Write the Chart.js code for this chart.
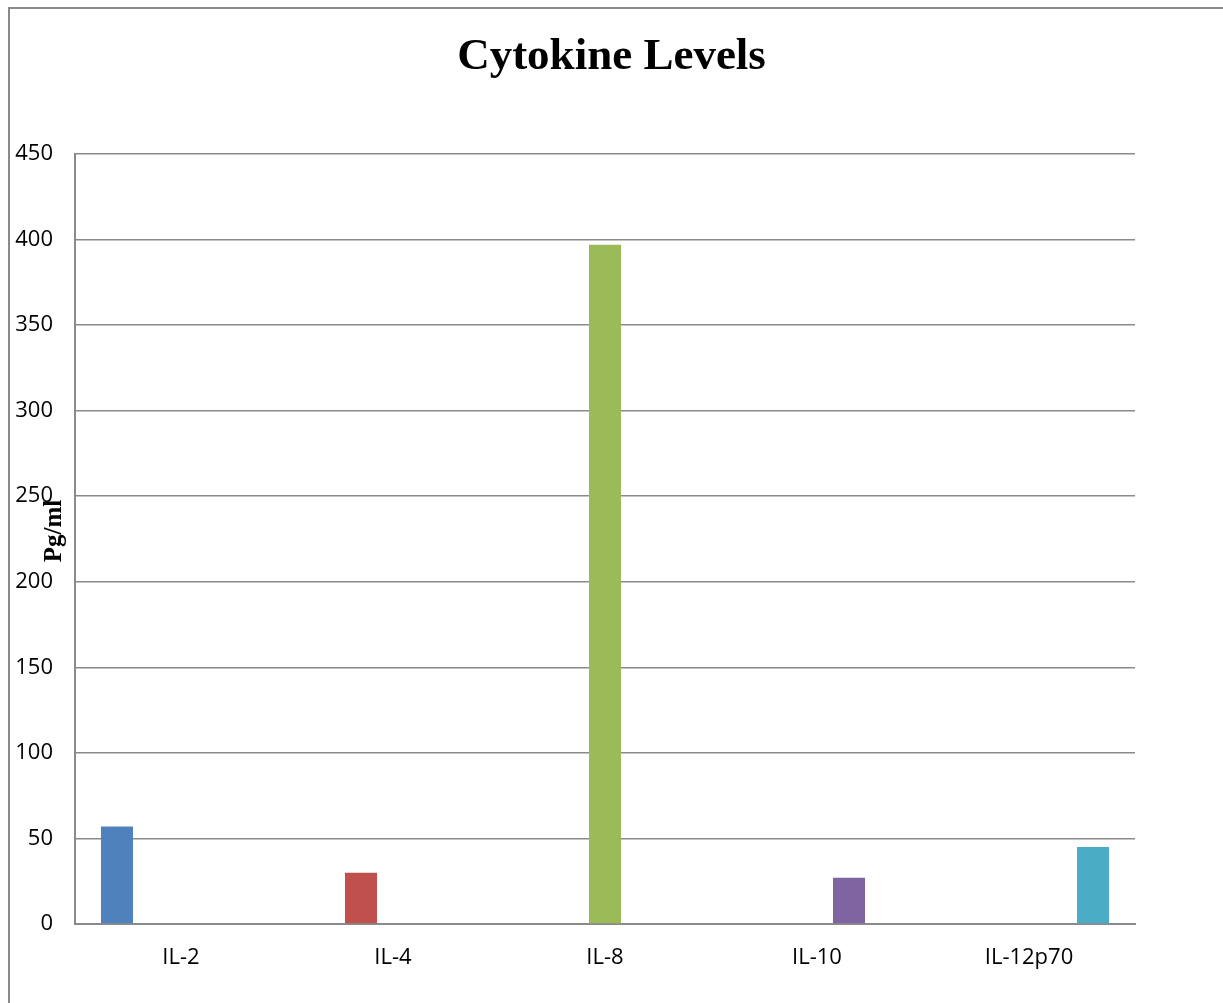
<!DOCTYPE html>
<html>
<head>
<meta charset="utf-8">
<script src="https://cdn.jsdelivr.net/npm/chart.js@4"></script>
<style>
  html, body { margin: 0; padding: 0; background: #fff; }
  #wrap { position: relative; width: 1223px; height: 1003px; }
</style>
</head>
<body>
<div id="wrap"><canvas id="cytokineChart"></canvas></div>
<script>
// chart data
const categories = ['IL-2', 'IL-4', 'IL-8', 'IL-10', 'IL-12p70'];
const levels = [57, 30, 397, 27, 45];
const barColors = ['#4F81BD', '#C0504D', '#9BBB59', '#8064A2', '#4BACC6'];
const yTicks = [0, 50, 100, 150, 200, 250, 300, 350, 400, 450];

// one dataset per cytokine, value only in its own category (like the original Excel chart)
const datasets = categories.map((name, i) => ({
    label: name,
    data: categories.map((_, j) => (j === i ? levels[i] : null)),
    backgroundColor: barColors[i],
    borderWidth: 0
}));

const tickFont = { family: '"Open Sans", Lato, sans-serif', size: 22 };

// outer frame line (top + left) and the rotated axis label
const framePlugin = {
    id: 'frame',
    beforeDraw(chart) {
        const ctx = chart.ctx;
        ctx.save();
        ctx.strokeStyle = '#8a8a8a';
        ctx.lineWidth = 2;
        ctx.beginPath();
        ctx.moveTo(9, chart.height);
        ctx.lineTo(9, 8);
        ctx.lineTo(chart.width, 8);
        ctx.stroke();
        ctx.restore();
    },
    afterDraw(chart) {
        const ctx = chart.ctx;
        const area = chart.chartArea;
        ctx.save();
        ctx.translate(area.left - 20, (area.top + area.bottom) / 2 - 8);
        ctx.rotate(-Math.PI / 2);
        ctx.font = 'bold 25px "Liberation Serif", "Times New Roman", serif';
        ctx.fillStyle = '#000';
        ctx.textAlign = 'center';
        ctx.textBaseline = 'middle';
        ctx.fillText('Pg/ml', 0, 0);
        ctx.restore();
    }
};

const ctx = document.getElementById('cytokineChart').getContext('2d');
new Chart(ctx, {
    type: 'bar',
    data: { labels: categories, datasets: datasets },
    options: {
        responsive: true,
        maintainAspectRatio: false,
        animation: false,
        layout: { padding: 0 },
        datasets: {
            bar: { categoryPercentage: 0.755, barPercentage: 1.0 }
        },
        scales: {
            x: {
                grid: { display: false, drawTicks: false },
                border: { display: true, color: '#8a8a8a', width: 2 },
                ticks: { color: '#000', padding: 21, font: tickFont },
                afterFit: (scale) => { scale.height = 79; }
            },
            y: {
                min: 0,
                max: 450,
                afterBuildTicks: (scale) => { scale.ticks = yTicks.map(v => ({ value: v })); },
                grid: { color: '#8a8a8a', lineWidth: 1.5, drawTicks: false },
                border: { display: true, color: '#8a8a8a', width: 2 },
                ticks: { color: '#000', padding: 22, font: tickFont },
                afterFit: (scale) => { scale.width = 75; }
            },
            // empty spacer on the right so the title stays centred on the whole picture
            spacer: {
                type: 'linear',
                position: 'right',
                display: true,
                grid: { display: false, drawTicks: false },
                border: { display: false },
                ticks: { display: false },
                afterFit: (scale) => { scale.width = 88; }
            }
        },
        plugins: {
            legend: { display: false },
            tooltip: { enabled: false },
            title: {
                display: true,
                text: 'Cytokine Levels',
                color: '#000',
                font: { family: '"Liberation Serif", "Times New Roman", serif', size: 45, weight: 'bold' },
                padding: { top: 30, bottom: 70 }
            }
        }
    },
    plugins: [framePlugin]
});
</script>
</body>
</html>
